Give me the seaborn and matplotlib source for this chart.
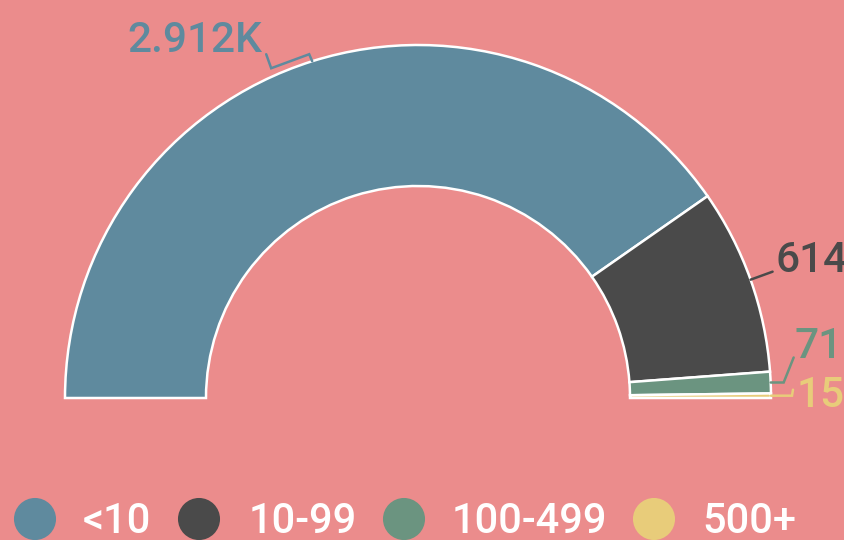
import numpy as np
import pandas as pd
import seaborn as sns
import matplotlib.pyplot as plt

categories = ['<10', '10-99', '100-499', '500+']
counts = [2912, 614, 71, 15]
colors = ['#5F8A9E', '#4A4A4A', '#6B9480', '#E8CC7A']
bg = '#EB8C8C'

sns.set_theme(style='white')
plt.rcParams['font.family'] = ['Roboto', 'DejaVu Sans']

df = pd.DataFrame({'bucket': categories, 'count': counts})
palette = sns.color_palette(colors)


def fmt(v):
    return f'{v / 1000:.3f}K' if v >= 1000 else str(v)


fig = plt.figure(figsize=(8.44, 5.40), dpi=100, facecolor=bg)
ax = fig.add_axes([0, 0, 1, 1])
ax.set_facecolor(bg)

# half donut: pad with a hidden wedge equal to the total
cx, cy, r_out, ring = 418, 142, 353, 141
vals = list(df['count']) + [df['count'].sum()]
wedges, _ = ax.pie(vals, startangle=180, counterclock=False, radius=r_out,
                   center=(cx, cy), colors=list(palette) + ['none'],
                   wedgeprops=dict(width=ring, edgecolor='white', linewidth=1.8))
wedges[-1].set_visible(False)

# leader lines (pixel offsets from the wedge mid point, y up) and text placement
leaders = [[(0, 0), (-3, 7), (-41, -7), (-46, 7)],
           [(0, 0), (22, 8)],
           [(0, 0), (13, 0), (23, 25)],
           [(0, 0), (21, 0), (22, 6)]]
text_off = [(-50, 9, 'right'), (25, 8, 'left'), (24, 25, 'left'), (26, -11, 'left')]

for w, v, col, pts, (tx, ty, ha) in zip(wedges, df['count'], palette, leaders, text_off):
    mid = np.deg2rad((w.theta1 + w.theta2) / 2)
    ax_, ay_ = cx + r_out * np.cos(mid), cy + r_out * np.sin(mid)
    xs = [ax_ + p[0] for p in pts]
    ys = [ay_ + p[1] for p in pts]
    ax.plot(xs, ys, color=col, lw=1.8, solid_joinstyle='miter')
    ax.text(ax_ + tx, ay_ + ty, fmt(v), color=col, fontsize=30.5, fontweight='medium',
            ha=ha, va='baseline')

# legend
leg_x = [35, 199, 404, 654]
txt_x = [83, 249, 452, 702]
ax.scatter(leg_x, [21] * 4, s=42 ** 2 * 0.52, c=list(palette), linewidths=0)
for x, lab in zip(txt_x, df['bucket']):
    ax.text(x, 7, lab, color='white', fontsize=30, fontweight='medium',
            ha='left', va='baseline')

ax.set_xlim(0, 844)
ax.set_ylim(0, 540)
ax.set_aspect('auto')
ax.axis('off')

fig.savefig('out.png', dpi=100, facecolor=bg)
